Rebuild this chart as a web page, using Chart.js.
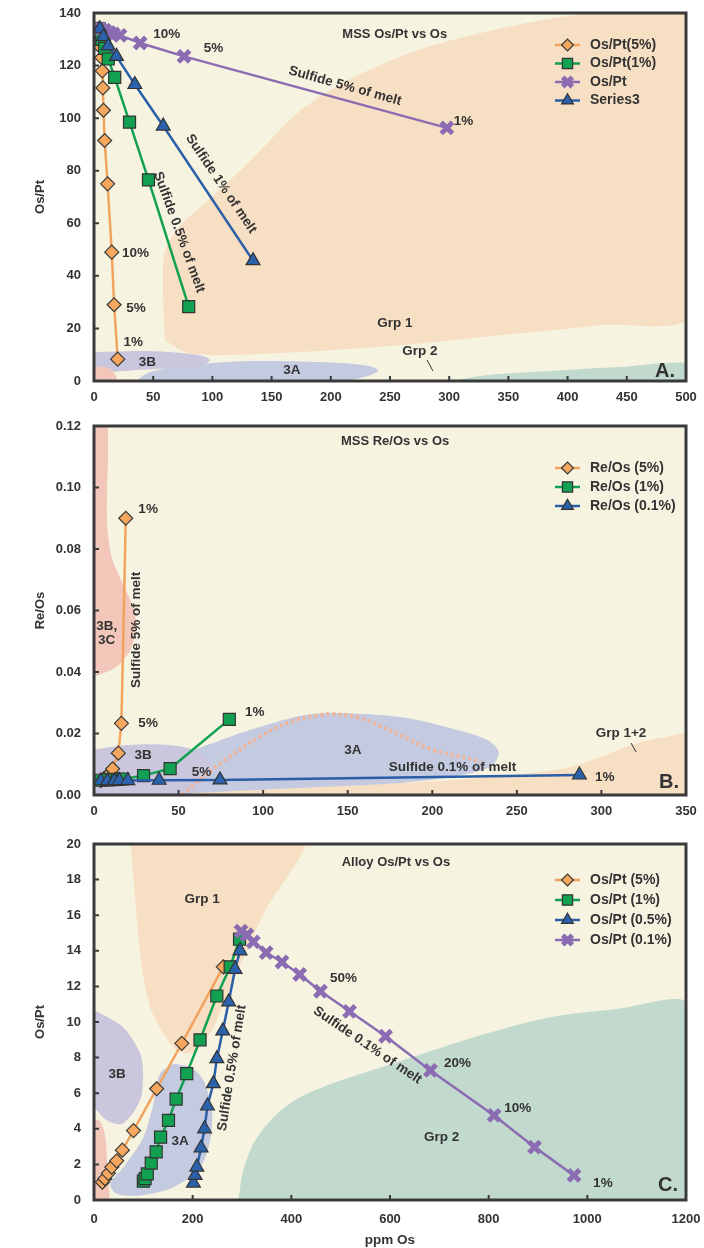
<!DOCTYPE html>
<html lang="en">
<head>
<meta charset="UTF-8">
<title>MSS and Alloy Os/Pt, Re/Os vs Os</title>
<script src="https://cdn.jsdelivr.net/npm/chart.js"></script>
<style>
  body { margin: 0; background: #fff; }
  canvas { position: absolute; left: 0; }
</style>
</head>
<body>
<canvas id="chartA" width="704" height="415" style="top:0px"></canvas>
<canvas id="chartB" width="704" height="415" style="top:415px"></canvas>
<canvas id="chartC" width="704" height="418" style="top:830px"></canvas>
<script>
// ---------- Panel A: MSS Os/Pt vs Os ----------
const aOsPt5X = [3.5, 4.5, 5.5, 6.5, 7, 7.5, 8, 9, 11.5, 15, 17, 20];
const aOsPt5Y = [134, 131, 127, 123, 118, 111.5, 103, 91.5, 75, 49, 29, 8.3];
const aOsPt1X = [4.5, 6.5, 9, 12, 17.5, 30, 46, 80];
const aOsPt1Y = [134, 130, 126.5, 122.5, 115.5, 98.5, 76.5, 28.3];
const aOsPtX = [5, 9, 13, 16.5, 22, 39, 76, 298];
const aOsPtY = [134, 133.5, 132.5, 132, 131.5, 128.6, 123.5, 96.3];
const aSer3X = [5, 8, 12, 19, 34.5, 58.5, 134.3];
const aSer3Y = [134, 131, 127.5, 123.5, 112.8, 97, 45.8];
// field outlines (data units)
const aGrp1X = [60, 58.3, 60, 72.6, 89.5, 131.8, 174, 216.2, 275.3, 343, 410.5, 505, 505, 427.4, 343, 258.4, 174, 106.4, 76.9];
const aGrp1Y = [15.5, 34.5, 49.6, 59.1, 65.9, 83.7, 102.7, 114.8, 126.1, 134.1, 139.4, 142, 25.8, 21.2, 17.4, 13.6, 11, 9.8, 11];
const a3BX = [-3, 47.3, 89.5, 98, 89.5, 47.3, -3];
const a3BY = [11, 11.4, 9.8, 7.95, 5.7, 4.5, 4.2];
const a3AX = [30.4, 47.3, 89.5, 131.8, 190.9, 233, 240, 224.7, 174];
const a3AY = [-2, 3.4, 6.4, 7.6, 7.2, 5.7, 3.8, 1.1, -2];
const aPinkX = [-3, 9.3, 15.2, 18.6, 19.4, -3];
const aPinkY = [5.3, 5.3, 4.2, 1.9, -2, -2];
const aGrp2X = [283.8, 326, 385, 444, 505, 505];
const aGrp2Y = [-2, 1.9, 3.8, 5.3, 6.5, -2];

// ---------- Panel B: MSS Re/Os vs Os ----------
const bReOs5X = [4, 6, 8, 10, 11, 14.4, 16.2, 18.8];
const bReOs5Y = [0.0047, 0.0054, 0.0063, 0.0072, 0.0085, 0.0136, 0.0233, 0.0900];
const bReOs1X = [4, 8, 11, 14, 17, 29.3, 45, 80];
const bReOs1Y = [0.0048, 0.0049, 0.005, 0.0051, 0.0052, 0.0063, 0.0086, 0.0246];
const bReOs01X = [4, 8, 12, 15, 20, 38.5, 74.5, 287];
const bReOs01Y = [0.0046, 0.0046, 0.0046, 0.0047, 0.0047, 0.0048, 0.0049, 0.0065];
const bPinkX = [-3, 7.1, 7.7, 10.1, 16, 22.6, 24.9, 22, 14.8, 5.9, -3];
const bPinkY = [0.125, 0.125, 0.0894, 0.078, 0.0699, 0.0618, 0.0553, 0.0478, 0.0423, 0.0397, 0.039];
const b3BX = [-3, 20.8, 44.5, 62.3, 68.2, 62.3, 44.5, -3];
const b3BY = [0.0146, 0.0163, 0.0163, 0.014, 0.0098, 0.0016, -0.001, -0.001];
const b3AX = [20.8, 23.7, 32.6, 62.3, 92, 121.7, 141.2, 181, 210.7, 232.6, 239.2, 234.4, 210.7, 181, 121.7, 62.3, 32.6];
const b3AY = [-0.001, 0.0065, 0.0098, 0.0153, 0.0211, 0.0257, 0.0267, 0.0254, 0.0218, 0.0179, 0.014, 0.0091, 0.0059, 0.0039, 0.0023, 0.0007, -0.001];
const bGrpX = [50.4, 62.3, 121.7, 181, 228.5, 264, 282, 299.7, 319.3, 335.3, 353, 353];
const bGrpY = [-0.001, 0.0013, 0.0026, 0.0039, 0.0055, 0.0075, 0.0091, 0.0124, 0.0166, 0.0185, 0.0192, -0.001];
const bDotX = [52.2, 62.3, 80.1, 97.9, 115.7, 133.5, 141.2, 157.3, 181, 200.6, 220.8, 228.5];
const bDotY = [0, 0.0049, 0.0124, 0.0189, 0.0237, 0.026, 0.0263, 0.025, 0.0195, 0.0146, 0.012, 0.0107];

// ---------- Panel C: Alloy Os/Pt vs Os ----------
const cOsPt5X = [17, 22, 29, 36, 46, 57.5, 80, 127, 178, 262];
const cOsPt5Y = [1.0, 1.2, 1.5, 1.85, 2.2, 2.8, 3.9, 6.25, 8.8, 13.1];
const cOsPt1X = [100, 103.5, 108, 116, 126, 135, 151, 166.5, 188, 215, 249, 276, 295];
const cOsPt1Y = [1.06, 1.2, 1.47, 2.07, 2.7, 3.53, 4.47, 5.67, 7.1, 9.0, 11.46, 13.1, 14.65];
const cOsPt05X = [201.5, 205, 208.5, 217, 224, 230, 242, 249, 261, 273, 286, 296];
const cOsPt05Y = [0.95, 1.38, 1.85, 2.92, 4.0, 5.28, 6.54, 7.94, 9.5, 11.13, 12.96, 14.0];
const cOsPt01X = [298, 310, 323, 349, 381, 417, 459, 518, 591, 682, 811, 893, 973];
const cOsPt01Y = [15.1, 14.9, 14.5, 13.9, 13.37, 12.67, 11.73, 10.6, 9.2, 7.28, 4.75, 2.97, 1.38];
const cGrp1X = [73.1, 93.4, 113.7, 140.7, 167.9, 194.9, 215.2, 242.2, 282.8, 343.8, 425, 73.1];
const cGrp1Y = [20.5, 13.86, 10.84, 9.34, 8.41, 8.24, 8.59, 9.72, 12.35, 16.1, 20.5, 20.5];
const c3BX = [-3, 12.2, 58.9, 93.4, 99.5, 93.4, 58.9, 26.4, 6.1, -3];
const c3BY = [10.66, 10.49, 9.7, 8.24, 7.11, 5.6, 4.3, 4.47, 5.03, 5.3];
const c3AX = [161, 195, 222, 239, 235.5, 215, 161, 93.4, 46, 32.5, 59.5, 100, 120.4, 134];
const c3AY = [7.66, 7.47, 6.72, 5.03, 3.35, 1.84, 0.72, 0.25, 0.35, 0.91, 1.84, 3.53, 5.41, 7.1];
const cPinkX = [-3, 12.2, 22.3, 26.4, 28.4, -3];
const cPinkY = [4.58, 4.41, 3.63, 2.22, -0.5, -0.5];
const cGrp2X = [290.4, 302.5, 326.9, 367.5, 418.3, 499.5, 621.3, 783.8, 919.8, 1053.8, 1210, 1210];
const cGrp2Y = [-0.5, 1.66, 3.35, 4.75, 5.78, 6.71, 7.8, 9.25, 10.24, 10.7, 10.9, -0.5];

const INK = '#333333';
const FRAME = '#3a3a3a';
const CREAM = '#f6f4e1';
const FONT = '"Liberation Sans", Arial, sans-serif';
const NARROW = '"Liberation Sans Narrow", "Liberation Sans", Arial, sans-serif';

const ORANGE = { line: '#f2a35e', fill: '#f6a75e', style: 'rectRot', r: 7, edge: '#3a3a3a', ew: 1.2 };
const GREEN = { line: '#11a150', fill: '#12a150', style: 'rect', r: 8.5, edge: '#333', ew: 1.2 };
const BLUE = { line: '#2a5fa8', fill: '#2a62ac', style: 'triangle', r: 8, edge: '#333', ew: 1.2 };
const PURPLE = { line: '#8b6cb2', fill: '#8b6cb2', style: 'crossRot', r: 8, edge: '#8b6cb2', ew: 5 };

function xy(xs, ys) { return xs.map((x, i) => ({ x, y: ys[i] })); }

function series(label, xs, ys, st, order) {
  return {
    label, data: xy(xs, ys), showLine: true, order,
    borderColor: st.line, borderWidth: 2.5, backgroundColor: st.fill,
    pointStyle: st.style, pointRadius: st.r, pointBackgroundColor: st.fill,
    pointBorderColor: st.edge, pointBorderWidth: st.ew
  };
}

function blob(xs, ys, color, order) {
  const d = xy(xs, ys);
  d.push({ ...d[0] });
  return {
    data: d, showLine: true, fill: 'shape', backgroundColor: color,
    borderColor: 'rgba(0,0,0,0)', borderWidth: 0, pointRadius: 0, tension: 0.3, order
  };
}

const decor = {
  id: 'decor',
  beforeDraw(chart) {
    const { ctx, chartArea: a } = chart;
    ctx.save();
    ctx.fillStyle = CREAM;
    ctx.fillRect(a.left, a.top, a.width, a.height);
    ctx.restore();
  },
  afterDatasetsDraw(chart, args, opts) {
    const { ctx, scales: { x, y } } = chart;
    (opts.notes || []).forEach(n => {
      ctx.save();
      if (n.line) {
        ctx.strokeStyle = INK; ctx.lineWidth = 1;
        ctx.beginPath();
        ctx.moveTo(x.getPixelForValue(n.line[0]), y.getPixelForValue(n.line[1]));
        ctx.lineTo(x.getPixelForValue(n.line[2]), y.getPixelForValue(n.line[3]));
        ctx.stroke();
      } else {
        ctx.translate(x.getPixelForValue(n.x), y.getPixelForValue(n.y));
        ctx.rotate((n.rot || 0) * Math.PI / 180);
        ctx.font = 'bold ' + (n.size || 13.5) + 'px ' + FONT;
        ctx.fillStyle = INK;
        ctx.textAlign = 'center';
        ctx.textBaseline = 'middle';
        ctx.fillText(n.text, 0, 0);
      }
      ctx.restore();
    });

    const lg = opts.legend;
    if (!lg) return;
    let row = 0;
    chart.data.datasets.forEach(ds => {
      if (!ds.label) return;
      const cy = lg.y + row * lg.dy;
      ctx.save();
      ctx.strokeStyle = ds.borderColor; ctx.lineWidth = 2.5;
      ctx.beginPath(); ctx.moveTo(lg.x, cy); ctx.lineTo(lg.x + 25, cy); ctx.stroke();
      ctx.fillStyle = ds.pointBackgroundColor;
      ctx.strokeStyle = ds.pointBorderColor;
      ctx.lineWidth = ds.pointBorderWidth;
      Chart.helpers.drawPoint(ctx, { pointStyle: ds.pointStyle, radius: ds.pointRadius * 0.85, borderWidth: ds.pointBorderWidth, rotation: 0 }, lg.x + 12.5, cy);
      ctx.fillStyle = INK;
      ctx.font = 'bold 14px ' + FONT;
      ctx.textAlign = 'left'; ctx.textBaseline = 'middle';
      ctx.fillText(ds.label, lg.x + 35, cy);
      ctx.restore();
      row++;
    });
  },
  afterDraw(chart) {
    const { ctx, chartArea: a, scales: { x, y } } = chart;
    ctx.save();
    ctx.strokeStyle = FRAME; ctx.lineWidth = 2;
    ctx.beginPath();
    x.ticks.forEach(t => { const p = x.getPixelForValue(t.value); ctx.moveTo(p, a.bottom); ctx.lineTo(p, a.bottom - 5); });
    y.ticks.forEach(t => { const p = y.getPixelForValue(t.value); ctx.moveTo(a.left, p); ctx.lineTo(a.left + 5, p); });
    ctx.stroke();
    ctx.lineWidth = 3;
    ctx.strokeRect(a.left, a.top, a.width, a.height);
    ctx.restore();
  }
};

// fixed axis boxes so the three plot frames line up with the reference
function noPad(s) { s.paddingTop = 0; s.paddingBottom = 0; s.paddingLeft = 0; s.paddingRight = 0; }

function axes(o) {
  const tickFont = { family: NARROW, size: 13, weight: 'bold' };
  return {
    x: {
      type: 'linear', min: 0, max: o.xMax,
      ticks: { stepSize: o.xStep, padding: o.xPad, color: INK, font: tickFont, maxRotation: 0, autoSkip: false, callback: v => String(v) },
      grid: { display: false, drawTicks: false }, border: { display: false },
      title: { display: !!o.xTitle, text: o.xTitle || '', color: INK, font: { family: NARROW, size: 13.5, weight: 'bold' }, padding: { top: 0, bottom: 0 } },
      afterFit: s => { s.height = o.xH; noPad(s); }
    },
    y: {
      type: 'linear', min: 0, max: o.yMax,
      ticks: { stepSize: o.yStep, padding: 13, color: INK, font: tickFont, callback: v => o.yDec ? v.toFixed(o.yDec) : String(v) },
      grid: { display: false, drawTicks: false }, border: { display: false },
      title: { display: true, text: o.yTitle, color: INK, font: { family: NARROW, size: 13, weight: 'bold' }, padding: { top: 33, bottom: 0 } },
      afterFit: s => { s.width = 94; noPad(s); }
    }
  };
}

function make(id, datasets, scales, padTop, notes, legend) {
  new Chart(document.getElementById(id), {
    type: 'scatter',
    data: { datasets },
    options: {
      responsive: false, animation: false, events: [],
      layout: { padding: { top: padTop, right: 18, left: 0, bottom: 0 } },
      scales,
      plugins: { legend: { display: false }, tooltip: { enabled: false }, decor: { notes, legend } }
    },
    plugins: [decor]
  });
}

make('chartA', [
  series('Os/Pt(5%)', aOsPt5X, aOsPt5Y, ORANGE, 4),
  series('Os/Pt(1%)', aOsPt1X, aOsPt1Y, GREEN, 3),
  series('Os/Pt', aOsPtX, aOsPtY, PURPLE, 2),
  series('Series3', aSer3X, aSer3Y, BLUE, 1),
  blob(aGrp1X, aGrp1Y, '#f7dfc4', 30),
  blob(aGrp2X, aGrp2Y, '#c2d9cd', 29),
  blob(a3AX, a3AY, '#c4cbe0', 28),
  blob(a3BX, a3BY, '#c9c6dd', 27),
  blob(aPinkX, aPinkY, '#f2c6b8', 26)
], axes({ xMax: 500, xStep: 50, xPad: 9, xH: 34, yMax: 140, yStep: 20, yTitle: 'Os/Pt' }), 12, [
  { text: 'MSS Os/Pt vs Os', x: 254, y: 131.8, size: 13 },
  { text: '10%', x: 61.5, y: 131.9 }, { text: '5%', x: 101, y: 126.4 }, { text: '1%', x: 312, y: 98.9 },
  { text: '10%', x: 35, y: 48.4 }, { text: '5%', x: 35.5, y: 27.5 }, { text: '1%', x: 33.2, y: 14.9 },
  { text: '3B', x: 45, y: 7.3 }, { text: '3A', x: 167.2, y: 4.2 },
  { text: 'Sulfide 5% of melt', x: 212, y: 112.2, rot: 15.5 },
  { text: 'Sulfide 1% of melt', x: 107.3, y: 75, rot: 56 },
  { text: 'Sulfide 0.5% of melt', x: 71.8, y: 56.6, rot: 70 },
  { text: 'Grp 1', x: 254.2, y: 22 }, { text: 'Grp 2', x: 275.3, y: 11.4 },
  { line: [281.3, 8, 286.3, 3.8] },
  { text: 'A.', x: 482.3, y: 3.8, size: 20 }
], { x: 555, y: 45, dy: 18.5 });

make('chartB', [
  series('Re/Os (5%)', bReOs5X, bReOs5Y, ORANGE, 3),
  series('Re/Os (1%)', bReOs1X, bReOs1Y, GREEN, 2),
  series('Re/Os (0.1%)', bReOs01X, bReOs01Y, BLUE, 1),
  { data: xy(bDotX, bDotY), showLine: true, borderColor: '#eeb49c', borderWidth: 4, borderDash: [3, 3], pointRadius: 0, tension: 0.4, order: 20 },
  blob(bGrpX, bGrpY, '#f7dfc4', 30),
  blob(b3AX, b3AY, '#c4cbe0', 28),
  blob(b3BX, b3BY, '#c9c6dd', 27),
  blob(bPinkX, bPinkY, '#f2c6b8', 26)
], axes({ xMax: 350, xStep: 50, xPad: 9, xH: 35, yMax: 0.12, yStep: 0.02, yDec: 2, yTitle: 'Re/Os' }), 11, [
  { text: 'MSS Re/Os vs Os', x: 178, y: 0.1151, size: 13 },
  { text: '1%', x: 32, y: 0.093 }, { text: '5%', x: 32, y: 0.0234 }, { text: '3B', x: 29, y: 0.013 },
  { text: '1%', x: 95, y: 0.027 }, { text: '5%', x: 63.5, y: 0.0075 },
  { text: 'Sulfide 5% of melt', x: 24.9, y: 0.0537, rot: -90 },
  { text: '3B,', x: 7.5, y: 0.0548 }, { text: '3C', x: 7.5, y: 0.0503 },
  { text: '3A', x: 153.1, y: 0.0146 },
  { text: 'Sulfide 0.1% of melt', x: 211.9, y: 0.0091 },
  { text: 'Grp 1+2', x: 311.6, y: 0.0202 }, { line: [317.5, 0.0169, 320.5, 0.014] },
  { text: '1%', x: 302, y: 0.0059 },
  { text: 'B.', x: 340, y: 0.0042, size: 20 }
], { x: 555, y: 53, dy: 19 });

make('chartC', [
  series('Os/Pt (5%)', cOsPt5X, cOsPt5Y, ORANGE, 4),
  series('Os/Pt (1%)', cOsPt1X, cOsPt1Y, GREEN, 3),
  series('Os/Pt (0.5%)', cOsPt05X, cOsPt05Y, BLUE, 2),
  series('Os/Pt (0.1%)', cOsPt01X, cOsPt01Y, PURPLE, 1),
  blob(cGrp1X, cGrp1Y, '#f7dfc4', 30),
  blob(cGrp2X, cGrp2Y, '#c2d9cd', 29),
  blob(c3AX, c3AY, '#c4cbe0', 28),
  blob(c3BX, c3BY, '#c9c6dd', 27),
  blob(cPinkX, cPinkY, '#f2c6b8', 26)
], axes({ xMax: 1200, xStep: 200, xPad: 12, xH: 48, yMax: 20, yStep: 2, yTitle: 'Os/Pt', xTitle: 'ppm Os' }), 14, [
  { text: 'Alloy Os/Pt vs Os', x: 612, y: 18.98, size: 13 },
  { text: 'Grp 1', x: 219.3, y: 16.9 },
  { text: '3B', x: 46.7, y: 7.09 }, { text: '3A', x: 174.6, y: 3.29 },
  { text: 'Sulfide 0.5% of melt', x: 279.8, y: 7.42, rot: -81 },
  { text: '50%', x: 505.6, y: 12.46 },
  { text: 'Sulfide 0.1% of melt', x: 554.3, y: 8.69, rot: 34 },
  { text: '20%', x: 737, y: 7.68 }, { text: '10%', x: 858.9, y: 5.15 }, { text: '1%', x: 1031.5, y: 0.93 },
  { text: 'Grp 2', x: 704.6, y: 3.52 },
  { text: 'C.', x: 1163.5, y: 0.82, size: 20 }
], { x: 555, y: 50, dy: 20 });
</script>
</body>
</html>
